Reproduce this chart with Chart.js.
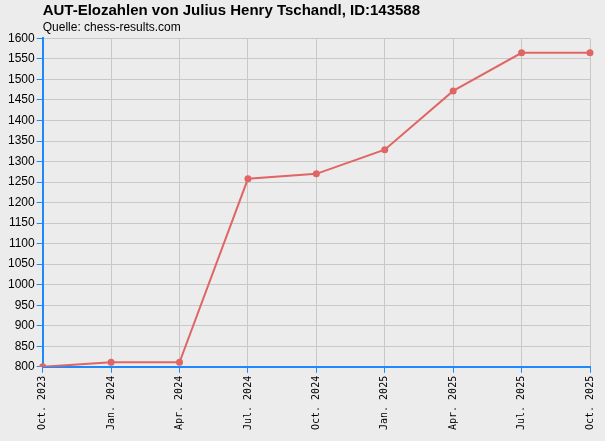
<!DOCTYPE html>
<html>
<head>
<script src="https://cdn.jsdelivr.net/npm/chart.js@4"></script>
<style>
html, body { margin: 0; padding: 0; background: #ececec; }
#wrap { width: 605px; height: 441px; }
</style>
</head>
<body>
<div id="wrap"><canvas id="eloChart"></canvas></div>
<script>
const labels = ['Oct. 2023', 'Jan. 2024', 'Apr. 2024', 'Jul. 2024', 'Oct. 2024', 'Jan. 2025', 'Apr. 2025', 'Jul. 2025', 'Oct. 2025'];
const elo = [800, 811, 811, 1258, 1270, 1329, 1472, 1565, 1565];

const ctx = document.getElementById('eloChart').getContext('2d');
new Chart(ctx, {
    type: 'line',
    data: {
        labels: labels,
        datasets: [{
            data: elo,
            borderColor: '#e06666',
            backgroundColor: '#e06666',
            borderWidth: 2,
            pointRadius: 2.5,
            tension: 0
        }]
    },
    options: {
        responsive: true,
        maintainAspectRatio: false,
        animation: false,
        layout: { padding: { left: 6, right: 10, top: 2, bottom: 8 } },
        plugins: {
            legend: { display: false },
            title: {
                display: true,
                fullSize: false,
                text: 'AUT-Elozahlen von Julius Henry Tschandl, ID:143588',
                align: 'start',
                color: '#000',
                font: { family: 'Liberation Sans', size: 15, weight: 'bold' },
                padding: { top: 0, bottom: 0 }
            },
            subtitle: {
                display: true,
                fullSize: false,
                text: 'Quelle: chess-results.com',
                align: 'start',
                color: '#000',
                font: { family: 'Liberation Sans', size: 12 },
                padding: { top: 0, bottom: 4 }
            }
        },
        scales: {
            x: {
                offset: false,
                grid: { color: '#c8c8c8', tickColor: '#1e88ff', tickLength: 6 },
                border: { color: '#1e88ff', width: 2 },
                ticks: {
                    color: '#000',
                    font: { family: 'DejaVu Sans Mono', size: 10 },
                    maxRotation: 90, minRotation: 90
                }
            },
            y: {
                min: 800, max: 1600,
                grid: { color: '#c8c8c8', tickColor: '#1e88ff', tickLength: 6 },
                border: { color: '#1e88ff', width: 2 },
                ticks: {
                    stepSize: 50,
                    color: '#000',
                    font: { family: 'Liberation Sans', size: 12 },
                    padding: 2,
                    callback: v => String(v)
                }
            }
        }
    }
});
</script>
</body>
</html>
